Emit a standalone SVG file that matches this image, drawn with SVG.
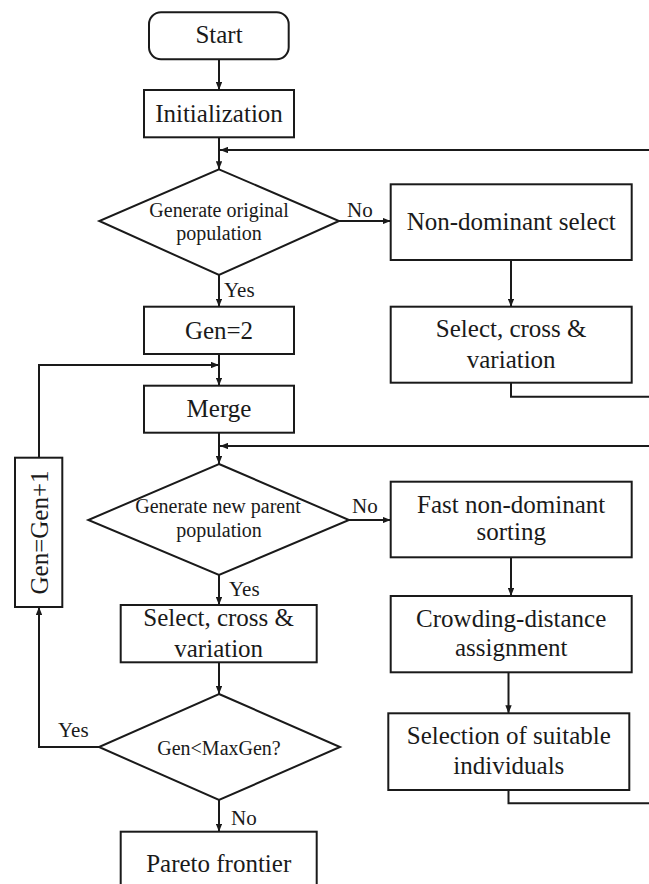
<svg xmlns="http://www.w3.org/2000/svg" width="649" height="884" viewBox="0 0 649 884">
<defs>
<marker id="ah" viewBox="0 0 10 8" refX="10" refY="4" markerWidth="8" markerHeight="6.4" markerUnits="userSpaceOnUse" orient="auto">
<path d="M0,0 L10,4 L0,8 z" fill="#1a1a1a"/>
</marker>
<style>
.box{fill:#fff;stroke:#1a1a1a;stroke-width:2}
.t{font-family:"Liberation Serif","Times New Roman",serif;font-size:25px;fill:#1a1a1a;text-anchor:middle}
.d{font-family:"Liberation Serif","Times New Roman",serif;font-size:20px;fill:#1a1a1a;text-anchor:middle}
.l{font-family:"Liberation Serif","Times New Roman",serif;font-size:21px;fill:#1a1a1a}
.c{fill:none;stroke:#1a1a1a;stroke-width:2}
.a{marker-end:url(#ah)}
</style>
</defs>
<rect width="649" height="884" fill="#fff"/>
<g id="connectors">
<path class="c a" d="M219,59.3 V90"/>
<path class="c a" d="M219,137.3 V169.3"/>
<path class="c a" d="M649,150 H220"/>
<path class="c a" d="M339,221 H390.7"/>
<path class="c a" d="M511,260 V306.7"/>
<path class="c" d="M511,382.7 V396.7 H649"/>
<path class="c a" d="M219,275 V306.7"/>
<path class="c a" d="M219,354 V385.7"/>
<path class="c a" d="M39,457.7 V365 H219"/>
<path class="c a" d="M219,432.7 V464"/>
<path class="c a" d="M649,446 H220"/>
<path class="c a" d="M349,520 H390.7"/>
<path class="c a" d="M511,557.3 V596"/>
<path class="c a" d="M508.5,672.3 V713.3"/>
<path class="c" d="M508.5,790 V803.3 H649"/>
<path class="c a" d="M219,575 V605"/>
<path class="c a" d="M219,662.3 V694"/>
<path class="c a" d="M99,747 H39 V607"/>
<path class="c a" d="M219,800 V831.7"/>
<text class="l" x="347" y="216.5">No</text>
<text class="l" x="224" y="296.5">Yes</text>
<text class="l" x="352" y="512.5">No</text>
<text class="l" x="229" y="596">Yes</text>
<text class="l" x="58" y="736.5">Yes</text>
<text class="l" x="231" y="825">No</text>
</g>
<g id="start">
<rect class="box" x="149" y="12.3" width="139.7" height="47" rx="12" ry="12"/>
<text class="t" x="219" y="43.3">Start</text>
</g>
<g id="init">
<rect class="box" x="144" y="90" width="150" height="47.3"/>
<text class="t" x="219" y="121.7">Initialization</text>
</g>
<g id="dec1">
<polygon class="box" points="219,169.3 339,221 219,275 99.3,221"/>
<text class="d" x="219" y="216.5">Generate original</text>
<text class="d" x="219" y="240">population</text>
</g>
<g id="nondom">
<rect class="box" x="390.7" y="184.3" width="241" height="75.7"/>
<text class="t" x="511.2" y="230">Non-dominant select</text>
</g>
<g id="scv1">
<rect class="box" x="390.7" y="306.7" width="241" height="76"/>
<text class="t" x="511.2" y="336.7">Select, cross &amp;</text>
<text class="t" x="511.2" y="368.3">variation</text>
</g>
<g id="gen2">
<rect class="box" x="144" y="306.7" width="150" height="47.3"/>
<text class="t" x="219" y="339.3">Gen=2</text>
</g>
<g id="merge">
<rect class="box" x="144" y="385.7" width="150" height="47"/>
<text class="t" x="219" y="417.3">Merge</text>
</g>
<g id="geninc">
<rect class="box" x="15" y="457.7" width="47.3" height="149.3"/>
<text class="t" transform="translate(47.5,532.5) rotate(-90)" x="0" y="0">Gen=Gen+1</text>
</g>
<g id="dec2">
<polygon class="box" points="219,464 349,520 219,575 88.3,520"/>
<text class="d" x="218" y="512.7">Generate new parent</text>
<text class="d" x="219" y="537">population</text>
</g>
<g id="fast">
<rect class="box" x="390.7" y="481.7" width="241" height="75.6"/>
<text class="t" x="511.2" y="512.7">Fast non-dominant</text>
<text class="t" x="511.2" y="540">sorting</text>
</g>
<g id="scv2">
<rect class="box" x="120.7" y="605" width="196" height="57.3"/>
<text class="t" x="218.7" y="626">Select, cross &amp;</text>
<text class="t" x="218.7" y="656.7">variation</text>
</g>
<g id="crowd">
<rect class="box" x="390.7" y="596" width="241" height="76.3"/>
<text class="t" x="511.2" y="626.7">Crowding-distance</text>
<text class="t" x="511.2" y="656">assignment</text>
</g>
<g id="dec3">
<polygon class="box" points="219,694 340,747 219,800 99,747"/>
<text class="d" x="219" y="755">Gen&lt;MaxGen?</text>
</g>
<g id="selsuit">
<rect class="box" x="388.3" y="713.3" width="241" height="76.7"/>
<text class="t" x="508.8" y="744">Selection of suitable</text>
<text class="t" x="508.8" y="774">individuals</text>
</g>
<g id="pareto">
<rect class="box" x="120.7" y="831.7" width="196" height="70"/>
<text class="t" x="218.7" y="871.7">Pareto frontier</text>
</g>
</svg>
